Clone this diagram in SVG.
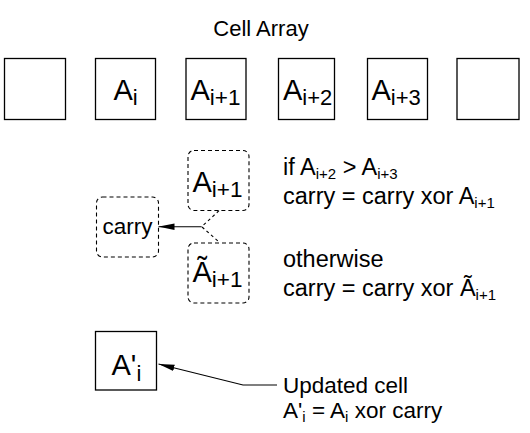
<svg xmlns="http://www.w3.org/2000/svg" width="530" height="433" viewBox="0 0 530 433">
<style>
text{font-family:"Liberation Sans",Arial,sans-serif;fill:#000}
.cell{fill:#fff;stroke:#000;stroke-width:1.3}
.dash{fill:#fff;stroke:#000;stroke-width:1.1;stroke-dasharray:4 3}
.big{font-size:29px}
.mid{font-size:23.5px}
.low{font-size:22.5px}
.conn{stroke:#000;stroke-width:1.1;fill:none}
</style>
<defs>
<marker id="ah" viewBox="0 0 16 8" refX="16" refY="4" markerWidth="16" markerHeight="8" markerUnits="userSpaceOnUse" orient="auto">
<path d="M0,0.8 L16,4 L0,7.2 Z" fill="#000"/>
</marker>
</defs>
<text x="261" y="36" text-anchor="middle" font-size="22">Cell Array</text>
<g id="cell0"><rect class="cell" x="4.5" y="58.5" width="61" height="61"/></g>
<g id="cell1"><rect class="cell" x="95.5" y="58.5" width="60" height="61"/><text x="113.5" y="100" class="big">A<tspan font-size="22" dy="5">i</tspan></text></g>
<g id="cell2"><rect class="cell" x="186" y="58.5" width="60" height="61"/><text x="190.5" y="100" class="big">A<tspan font-size="22.5" dy="5">i+1</tspan></text></g>
<g id="cell3"><rect class="cell" x="278.5" y="58.5" width="56" height="61"/><text x="283" y="100" class="big">A<tspan font-size="22" dy="5">i+2</tspan></text></g>
<g id="cell4"><rect class="cell" x="367.5" y="58.5" width="60" height="61"/><text x="371.5" y="100" class="big">A<tspan font-size="22" dy="5">i+3</tspan></text></g>
<g id="cell5"><rect class="cell" x="457" y="58.5" width="62" height="61"/></g>
<g id="opt1"><rect class="dash" x="188" y="150.5" width="61" height="60" rx="6"/><text x="192.5" y="191.5" class="big">A<tspan font-size="22.5" dy="5">i+1</tspan></text></g>
<g id="opt2"><rect class="dash" x="188" y="243" width="61" height="60" rx="6"/><text x="192.5" y="281.5" class="big">Ã<tspan font-size="22.5" dy="5">i+1</tspan></text></g>
<g id="carry"><rect class="dash" x="96.5" y="197" width="62" height="60" rx="6"/><text x="127.5" y="234" text-anchor="middle" font-size="22.5">carry</text></g>
<g id="result"><rect class="cell" x="95.5" y="331.5" width="61" height="58.5"/><text x="111.5" y="375" class="big">A'<tspan font-size="22" dy="6">i</tspan></text></g>
<g id="connectors">
<path class="conn" d="M201.7,226.7 L158.5,226.7" marker-end="url(#ah)"/>
<path class="conn" d="M219,210.7 L201.7,226.7 L219,242" stroke-dasharray="3 3"/>
<path class="conn" d="M277,385 L243,385 L158.5,364" marker-end="url(#ah)"/>
</g>
<g id="notes">
<text x="283" y="175" class="mid">if A<tspan font-size="15" dy="4">i+2</tspan><tspan dy="-4"> &gt; A</tspan><tspan font-size="15" dy="4">i+3</tspan></text>
<text x="283" y="204" class="mid">carry = carry xor A<tspan font-size="15" dy="4">i+1</tspan></text>
<text x="283" y="267" class="mid">otherwise</text>
<text x="283" y="296" class="mid">carry = carry xor Ã<tspan font-size="15" dy="4">i+1</tspan></text>
<text x="283" y="393" class="low">Updated cell</text>
<text x="283" y="418" class="low">A'<tspan font-size="15" dy="4">i</tspan><tspan dy="-4"> = A</tspan><tspan font-size="15" dy="4">i</tspan><tspan dy="-4"> xor carry</tspan></text>
</g>
</svg>
